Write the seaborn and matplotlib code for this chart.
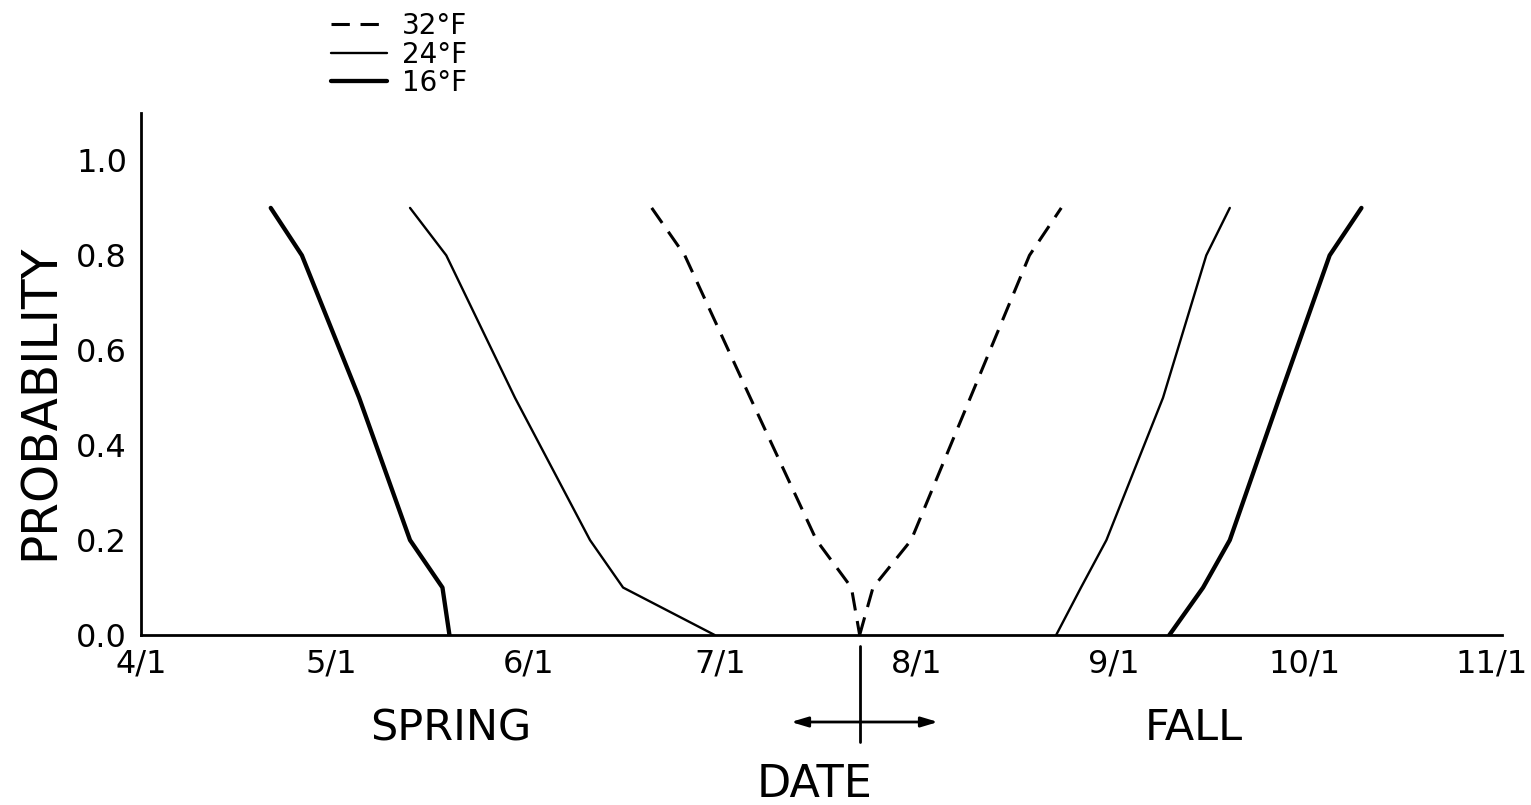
import matplotlib
matplotlib.use("Agg")
import matplotlib.pyplot as plt
import matplotlib.dates as mdates
import matplotlib.transforms as mtransforms
from matplotlib.lines import Line2D
from matplotlib.ticker import FuncFormatter, FixedLocator
import numpy as np
import pandas as pd
import seaborn as sns

# ---- data (days after 4/1, probability) ----
prob_levels = [0.9, 0.8, 0.5, 0.2, 0.1, 0.0]
f32_spring_days = [80.3, 85.5, 95.8, 106.2, 111.7, 113.0]
f24_spring_days = [42.3, 48.0, 58.8, 70.6, 75.8, 90.2]
f16_spring_days = [20.4, 25.3, 34.3, 42.3, 47.4, 48.5]

fall_levels = [0.0, 0.1, 0.2, 0.5, 0.8, 0.9]
f32_fall_days = [113.0, 115.1, 121.1, 130.4, 139.7, 144.7]
f24_fall_days = [143.9, 147.8, 151.8, 160.7, 167.5, 171.2]
f16_fall_days = [161.7, 167.0, 171.2, 179.0, 186.9, 191.9]

series_labels = ["32\u00b0F", "24\u00b0F", "16\u00b0F"]
y_ticks = [0.0, 0.2, 0.4, 0.6, 0.8, 1.0]
season_labels = ["SPRING", "FALL"]
x_title = "DATE"
y_title = "PROBABILITY"

base = pd.Timestamp("2001-04-01")
end = pd.Timestamp("2001-11-01")

rows = []
for label, sp, fa in zip(series_labels,
                         [f32_spring_days, f24_spring_days, f16_spring_days],
                         [f32_fall_days, f24_fall_days, f16_fall_days]):
    for d, p in zip(sp, prob_levels):
        rows.append((label, "spring", base + pd.Timedelta(days=d), p))
    for d, p in zip(fa, fall_levels):
        rows.append((label, "fall", base + pd.Timedelta(days=d), p))
df = pd.DataFrame(rows, columns=["temp", "season", "date", "prob"])

sns.set_style("white")
plt.rcParams["font.family"] = ["DejaVu Sans"]

W, H = 1531, 805
fig = plt.figure(figsize=(W / 100, H / 100), dpi=100)
ax = fig.add_axes([141 / W, 1 - 635 / H, (1502 - 141) / W, (635 - 113) / H])

styles = {
    "32\u00b0F": dict(lw=2.2, ls=(0, (6, 3.5))),
    "24\u00b0F": dict(lw=1.7, ls="-"),
    "16\u00b0F": dict(lw=3.1, ls="-"),
}
for (temp, season), g in df.groupby(["temp", "season"], sort=False):
    st = styles[temp]
    sns.lineplot(data=g, x="date", y="prob", ax=ax, color="black",
                 linewidth=st["lw"], linestyle=st["ls"], sort=False,
                 estimator=None, legend=False)

ax.set_xlim(base, end)
ax.set_ylim(0, 1.1)
ax.xaxis.set_major_locator(mdates.MonthLocator())
ax.xaxis.set_major_formatter(FuncFormatter(
    lambda v, p: f"{mdates.num2date(v).month}/{mdates.num2date(v).day}"))
ax.yaxis.set_major_locator(FixedLocator(y_ticks))
ax.yaxis.set_major_formatter(FuncFormatter(lambda v, p: f"{v:.1f}"))

for s in ["top", "right"]:
    ax.spines[s].set_visible(False)
for s in ["left", "bottom"]:
    ax.spines[s].set_color("black")
    ax.spines[s].set_linewidth(2.0)
ax.tick_params(axis="both", direction="in", length=13, width=1.8,
               color="black", labelsize=23, pad=10, labelcolor="black")
ax.set_xlabel("")
ax.set_ylabel("")

# nudge the last x tick label (11/1) left so it stays inside the figure
fig.canvas.draw()
xlabels = ax.get_xticklabels()
if xlabels:
    last = xlabels[-1]
    last.set_transform(last.get_transform() +
                       mtransforms.ScaledTranslation(-10 / 100, 0, fig.dpi_scale_trans))

fig.text(40 / W, 1 - 402 / H, y_title, rotation=90, ha="center", va="center",
         fontsize=35, color="black")
fig.text(451 / W, 1 - 728 / H, season_labels[0], ha="center", va="center",
         fontsize=31, color="black")
fig.text(1194 / W, 1 - 728 / H, season_labels[1], ha="center", va="center",
         fontsize=31, color="black")
fig.text(815 / W, 1 - 784 / H, x_title, ha="center", va="center",
         fontsize=32, color="black")

# date marker and double arrow below the axis
xm = 860 / W
fig.add_artist(Line2D([xm, xm], [1 - 646 / H, 1 - 742 / H], color="black",
                      lw=2.0, transform=fig.transFigure))
ax.annotate("", xy=(938 / W, 1 - 722 / H), xytext=(791 / W, 1 - 722 / H),
            xycoords="figure fraction", textcoords="figure fraction",
            arrowprops=dict(arrowstyle="<|-|>,head_length=1.0,head_width=0.3",
                            color="black", lw=2.0, shrinkA=0, shrinkB=0))

handles = [Line2D([], [], color="black", lw=styles[l]["lw"], ls=styles[l]["ls"])
           for l in series_labels]
fig.legend(handles, series_labels, loc="upper left",
           bbox_to_anchor=(331 / W, 1 - 12 / H), frameon=False, fontsize=20,
           handlelength=2.0, handletextpad=0.55, labelspacing=0.02,
           borderpad=0, borderaxespad=0, labelcolor="black")

fig.savefig("out.png", dpi=100, facecolor="white")
